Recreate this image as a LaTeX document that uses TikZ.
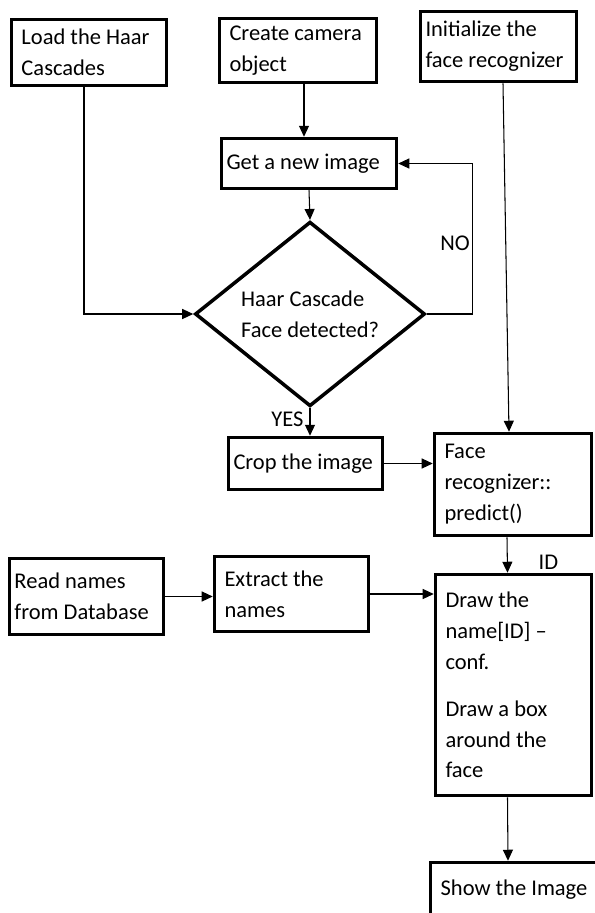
\documentclass[tikz,border=0pt]{standalone}
\usepackage{fontspec}
\setmainfont{Carlito}
\usetikzlibrary{shapes.geometric,arrows.meta}

\tikzset{
box/.style={draw, line width=2pt, inner xsep=0.2cm, inner ysep=0pt, align=flush left},
decision/.style={draw, diamond, line width=2pt, minimum width=4.6cm, minimum height=3.2cm, inner sep=0pt, align=flush left},
conn/.style={line width=0.6pt, ->}
}

\begin{document}
\begin{tikzpicture}[>={Triangle[length=0.22cm,width=0.2cm]}, font=\fontsize{12.8}{17.6}\selectfont]
\useasboundingbox (0,0) rectangle (11.9,-18.26) ;
\node[box, text width=2.70cm, minimum height=1.32cm] (load) at (1.78,-1.05) {Load the Haar\\Cascades} ;
\node[box, text width=2.74cm, minimum height=1.28cm] (camera) at (5.96,-1.01) {Create camera\\object} ;
\node[box, inner xsep=0.1cm, text width=2.92cm, minimum height=1.40cm] (init) at (9.97,-0.93) {Initialize the\\face recognizer} ;
\node[box, inner xsep=0.1cm, text width=3.30cm, minimum height=1.00cm] (getimg) at (6.18,-3.27) {Get a new image} ;
\node[decision] (dia) at (6.2,-6.28) {Haar Cascade\\Face detected?} ;
\node[box, inner xsep=0.1cm, text width=2.88cm, minimum height=1.04cm] (crop) at (6.11,-9.27) {Crop the image} ;
\node[box, text width=2.74cm, minimum height=2.04cm] (predict) at (10.26,-9.69) {Face\\recognizer::\\predict()} ;
\node[box, inner xsep=0.1cm, text width=2.88cm, minimum height=1.52cm] (readnames) at (1.73,-11.93) {Read names\\from Database} ;
\node[box, text width=2.68cm, minimum height=1.50cm] (extract) at (5.83,-11.88) {Extract the\\names} ;
\node[box, text width=2.72cm, minimum height=4.42cm] (drawbox) at (10.27,-13.7) {Draw the\\name[ID] --\\conf.\\[9pt]Draw a box\\around the\\face} ;
\node[box, minimum width=3.16cm, minimum height=1.10cm] (show) at (10.28,-17.8) {Show the Image} ;
\coordinate (loadout) at ([xshift=-0.1cm]load.south) ;
\coordinate (camout) at ([xshift=0.12cm]camera.south) ;
\draw[conn] (loadout) |- (dia.west) ;
\draw[conn] (camout) -- (camout |- getimg.north) ;
\draw[conn] (getimg.south) -- (dia.north) ;
\draw[conn] (dia.east) -- ++(0.92,0) |- node[pos=0.235, left, inner sep=0.05cm] (no) {NO} (getimg.east) ;
\draw[conn] (dia.south) -- node[pos=0.4, left, inner sep=0.12cm] (yes) {YES} (dia.south |- crop.north) ;
\draw[conn] ([xshift=0.09cm]init.south) -- ([xshift=-0.08cm]predict.north) ;
\draw[conn] (crop.east) -- (crop.east -| predict.west) ;
\draw[conn] ([xshift=-0.12cm]predict.south) -- node[pos=0.7, right=0.5cm] (id) {ID} ([xshift=-0.12cm]drawbox.north) ;
\draw[conn] (readnames.east) -- (readnames.east -| extract.west) ;
\draw[conn] (extract.east) -- (extract.east -| drawbox.west) ;
\draw[conn] ([xshift=-0.12cm]drawbox.south) -- ([xshift=-0.12cm]show.north) ;
\end{tikzpicture}
\end{document}
